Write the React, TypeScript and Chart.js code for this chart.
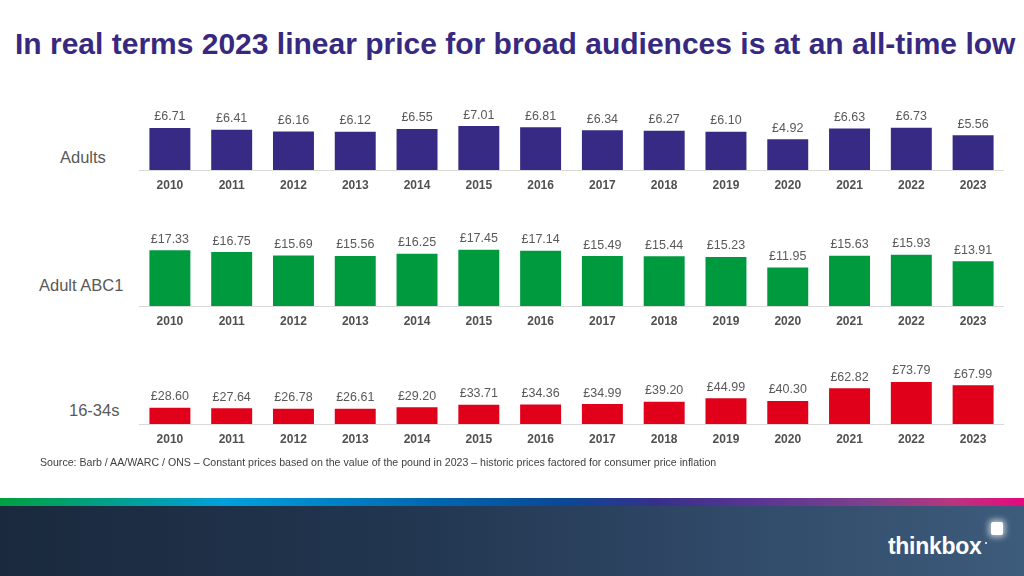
import React, { useEffect, useRef } from 'react';
import { Chart, registerables } from 'chart.js';

Chart.register(...registerables);

const titleText = 'In real terms 2023 linear price for broad audiences is at an all-time low';
const sourceText =
  'Source: Barb / AA/WARC / ONS \u2013 Constant prices based on the value of the pound in 2023 \u2013 historic prices factored for consumer price inflation';

const years = ['2010', '2011', '2012', '2013', '2014', '2015', '2016', '2017', '2018', '2019', '2020', '2021', '2022', '2023'];
const adultsValues = [6.71, 6.41, 6.16, 6.12, 6.55, 7.01, 6.81, 6.34, 6.27, 6.1, 4.92, 6.63, 6.73, 5.56];
const abc1Values = [17.33, 16.75, 15.69, 15.56, 16.25, 17.45, 17.14, 15.49, 15.44, 15.23, 11.95, 15.63, 15.93, 13.91];
const youngValues = [28.6, 27.64, 26.78, 26.61, 29.2, 33.71, 34.36, 34.99, 39.2, 44.99, 40.3, 62.82, 73.79, 67.99];
const panelLabels = ['Adults', 'Adult ABC1', '16-34s'];

const FONT = '"Liberation Sans", Arial, Helvetica, sans-serif';

const valueLabelPlugin = {
  id: 'valueLabels',
  afterDatasetsDraw(chart: any) {
    const ctx = chart.ctx;
    const meta = chart.getDatasetMeta(0);
    const data = chart.data.datasets[0].data as number[];
    ctx.save();
    ctx.font = `12.5px ${FONT}`;
    ctx.fillStyle = '#595959';
    ctx.textAlign = 'center';
    ctx.textBaseline = 'middle';
    meta.data.forEach((bar: any, i: number) => {
      ctx.fillText('\u00a3' + Number(data[i]).toFixed(2), bar.x, bar.y - 11);
    });
    ctx.restore();
  },
};

type PanelProps = {
  values: number[];
  color: string;
  top: number;
  height: number;
  baseline: number;
  yMax: number;
  ppu: number;
};

function BarPanel({ values, color, top, height, baseline, yMax, ppu }: PanelProps) {
  const ref = useRef<HTMLCanvasElement>(null);
  useEffect(() => {
    if (!ref.current) return;
    const tickPad = 8;
    const axisH = 12 * 1.2 + 2 * tickPad;
    const areaH = yMax * ppu;
    const padTop = baseline - areaH - top;
    const padBottom = height - (baseline - top) - axisH;
    const chart = new Chart(ref.current, {
      type: 'bar',
      data: {
        labels: years,
        datasets: [
          {
            data: values,
            backgroundColor: color,
            barPercentage: 0.663,
            categoryPercentage: 1,
          },
        ],
      },
      options: {
        responsive: false,
        maintainAspectRatio: false,
        animation: false,
        layout: { padding: { top: padTop, bottom: padBottom, left: 0, right: 0 } },
        plugins: { legend: { display: false }, tooltip: { enabled: false } },
        scales: {
          x: {
            grid: { display: false, drawTicks: false },
            border: { display: true, color: '#D9D9D9', width: 1 },
            ticks: {
              padding: tickPad,
              color: '#505050',
              maxRotation: 0,
              autoSkip: false,
              font: { family: FONT, size: 12, weight: 'bold' },
            },
          },
          y: { display: false, min: 0, max: yMax },
        },
      },
      plugins: [valueLabelPlugin],
    } as any);
    return () => chart.destroy();
  }, []);
  return (
    <canvas
      ref={ref}
      width={865}
      height={height}
      style={{ position: 'absolute', left: 139, top, width: 865, height }}
    />
  );
}

export default function App() {
  const rowLabelStyle = (left: number, centerY: number): React.CSSProperties => ({
    position: 'absolute',
    left,
    top: centerY - 10,
    height: 20,
    lineHeight: '20px',
    fontSize: 16.5,
    fontFamily: FONT,
    color: '#595959',
    whiteSpace: 'nowrap',
  });
  return (
    <div
      style={{
        position: 'fixed',
        left: 0,
        top: 0,
        width: 1024,
        height: 576,
        overflow: 'hidden',
        background: '#ffffff',
        fontFamily: FONT,
      }}
    >
      <div
        style={{
          position: 'absolute',
          left: 15,
          top: 29,
          fontSize: 30,
          lineHeight: '30px',
          fontWeight: 'bold',
          color: '#37297F',
          whiteSpace: 'nowrap',
        }}
      >
        {titleText}
      </div>

      <div style={rowLabelStyle(60, 157)}>{panelLabels[0]}</div>
      <div style={rowLabelStyle(39, 285)}>{panelLabels[1]}</div>
      <div style={rowLabelStyle(69, 410)}>{panelLabels[2]}</div>

      <BarPanel values={adultsValues} color="#372A84" top={95} height={110} baseline={170} yMax={8} ppu={6.26} />
      <BarPanel values={abc1Values} color="#009A3E" top={220} height={120} baseline={306} yMax={20} ppu={3.22} />
      <BarPanel values={youngValues} color="#E1001A" top={355} height={104} baseline={424} yMax={80} ppu={0.57} />

      <div
        style={{
          position: 'absolute',
          left: 40,
          top: 456,
          fontSize: 10.6,
          lineHeight: '12px',
          color: '#404040',
          whiteSpace: 'nowrap',
        }}
      >
        {sourceText}
      </div>

      <div
        style={{
          position: 'absolute',
          left: 0,
          top: 498,
          width: 1024,
          height: 8,
          background:
            'linear-gradient(to right, #00A040 0%, #00A0DC 22%, #0068B0 42%, #0A4896 55%, #36308A 64%, #5A3594 74%, #80408E 85%, #B8357F 93%, #E5087E 100%)',
        }}
      />
      <div
        style={{
          position: 'absolute',
          left: 0,
          top: 506,
          width: 1024,
          height: 70,
          background: 'linear-gradient(to right, #1A293D 0%, #223650 40%, #324C6B 75%, #3D5B7B 100%)',
        }}
      />
      <div
        style={{
          position: 'absolute',
          left: 888,
          top: 533,
          fontSize: 23,
          lineHeight: '26px',
          fontWeight: 'bold',
          color: '#ffffff',
          letterSpacing: -0.3,
          whiteSpace: 'nowrap',
        }}
      >
        thinkbox
      </div>
      <div
        style={{
          position: 'absolute',
          left: 991,
          top: 522,
          width: 12,
          height: 13,
          borderRadius: 2,
          background: '#ffffff',
          boxShadow: '0 0 6px 2px rgba(255,255,255,0.7)',
        }}
      />
      <div
        style={{
          position: 'absolute',
          left: 985,
          top: 542,
          width: 2,
          height: 2,
          borderRadius: 1,
          background: '#ffffff',
        }}
      />
    </div>
  );
}
